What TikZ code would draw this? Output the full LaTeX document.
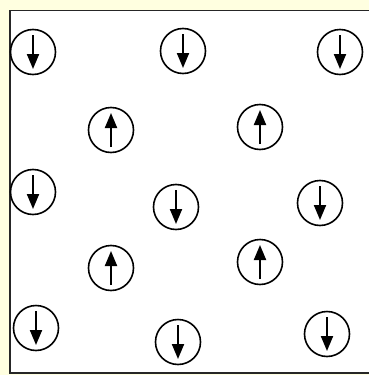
\documentclass[tikz,border=0pt]{standalone}
\usetikzlibrary{arrows.meta}
\definecolor{bgyellow}{RGB}{255,255,224}
\begin{document}
\begin{tikzpicture}[x=1pt,y=-1pt,
  spin/.style={circle,draw=black,line width=1.6pt,minimum size=45pt,inner sep=0pt,fill=white},
  arr/.style={line width=2pt,-{Triangle[length=15pt,width=12pt]}}]
\useasboundingbox (0,0) rectangle (369,375);
\fill[bgyellow] (0,0) rectangle (369,375);
\draw[fill=white,draw=black!85,line width=1.8pt] (10,10.5) rectangle (390,373);
\node[spin] (a1) at (33,52) {};
\node[spin] (a2) at (183,51) {};
\node[spin] (a3) at (340,52) {};
\node[spin] (b1) at (111,130) {};
\node[spin] (b2) at (260,127) {};
\node[spin] (c1) at (33,192) {};
\node[spin] (c2) at (176,207) {};
\node[spin] (c3) at (320,203) {};
\node[spin] (d1) at (111,268) {};
\node[spin] (d2) at (260,262) {};
\node[spin] (e1) at (36,328) {};
\node[spin] (e2) at (178,342) {};
\node[spin] (e3) at (327,334) {};
\foreach \n in {a1,a2,a3,c1,c2,c3,e1,e2,e3}
  \draw[arr] ([yshift=17pt]\n.center) -- ([yshift=-17pt]\n.center);
\foreach \n in {b1,b2,d1,d2}
  \draw[arr] ([yshift=-17pt]\n.center) -- ([yshift=17pt]\n.center);
\end{tikzpicture}
\end{document}
